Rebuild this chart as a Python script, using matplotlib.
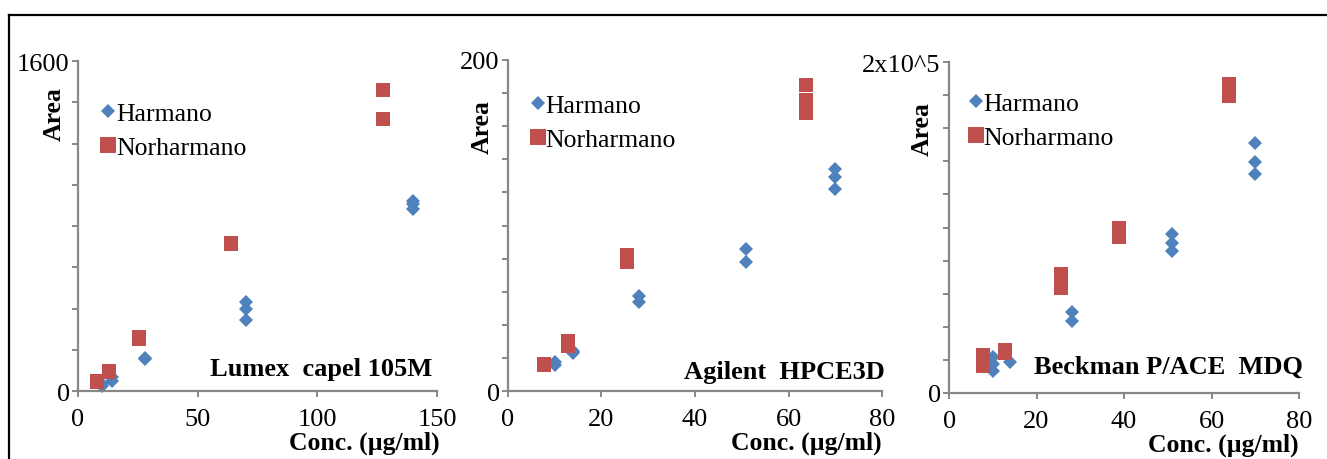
import matplotlib.pyplot as plt
from matplotlib.lines import Line2D

plt.rcParams["font.family"] = ["Liberation Serif", "DejaVu Serif"]

blue = "#4F81BD"
red = "#C0504D"
grey = "#878787"

# Lumex capel 105M
harm_conc_1 = [10, 10, 14, 14, 28, 28, 70, 70, 70, 140, 140, 140]
harm_area_1 = [26, 35, 50, 68, 155, 162, 430, 398, 344, 920, 905, 883]
norh_conc_1 = [7.8, 7.8, 12.8, 12.8, 25.5, 25.5, 63.8, 63.8, 127.5, 127.5]
norh_area_1 = [42, 48, 91, 98, 252, 262, 713, 718, 1461, 1321]

# Agilent HPCE3D
harm_conc_2 = [10, 10, 14, 14, 28, 28, 51, 51, 70, 70, 70]
harm_area_2 = [16, 17.5, 23, 24, 57.6, 53.6, 85.8, 78.1, 134, 129.5, 122]
norh_conc_2 = [7.8, 7.8, 12.8, 12.8, 25.5, 25.5, 25.5, 63.7, 63.7, 63.7]
norh_area_2 = [16, 16.3, 27, 30, 78, 80, 82, 168, 176, 185]

# Beckman P/ACE MDQ
harm_conc_3 = [10, 10, 10, 14, 28, 28, 51, 51, 51, 70, 70, 70]
harm_area_3 = [21600, 17500, 13500, 18500, 48800, 43700, 96000, 90600, 86000,
               151000, 139400, 132300]
norh_conc_3 = [7.8, 7.8, 7.8, 12.8, 12.8, 25.5, 25.5, 25.5, 38.8, 38.8, 64, 64]
norh_area_3 = [16500, 19500, 22700, 24200, 25700, 63400, 67500, 71900,
               94000, 99700, 179200, 186700]

panels = [
    dict(hx=harm_conc_1, hy=harm_area_1, nx=norh_conc_1, ny=norh_area_1,
         xmax=150, xstep=50, ymax=1600, ystep=200, ytop="1600",
         name="Lumex  capel 105M", name_xy=(0.986, 0.067),
         rect=[0.0588, 0.1478, 0.2705, 0.7174],
         ylab_xy=(-0.035, 0.842), xlab_x=1.008, leg_xy=(0.066, 0.875)),
    dict(hx=harm_conc_2, hy=harm_area_2, nx=norh_conc_2, ny=norh_area_2,
         xmax=80, xstep=20, ymax=200, ystep=20, ytop="200",
         name="Agilent  HPCE3D", name_xy=(1.008, 0.06),
         rect=[0.3828, 0.1478, 0.2819, 0.7196],
         ylab_xy=(-0.037, 0.80), xlab_x=1.0, leg_xy=(0.063, 0.896)),
    dict(hx=harm_conc_3, hy=harm_area_3, nx=norh_conc_3, ny=norh_area_3,
         xmax=80, xstep=20, ymax=200000, ystep=20000, ytop="2x10^5",
         name="Beckman P/ACE  MDQ", name_xy=(1.011, 0.082),
         rect=[0.7152, 0.1435, 0.2637, 0.7195],
         ylab_xy=(-0.043, 0.80), xlab_x=1.0, leg_xy=(0.058, 0.908)),
]

fig = plt.figure(figsize=(13.27, 4.6), dpi=100)

for p in panels:
    ax = fig.add_axes(p["rect"])
    ax.plot(p["hx"], p["hy"], "D", color=blue, markersize=6.8,
            markeredgewidth=0, label="Harmano", clip_on=False)
    ax.plot(p["nx"], p["ny"], "s", color=red, markersize=10,
            markeredgewidth=0, label="Norharmano", clip_on=False)

    ax.set_xlim(0, p["xmax"])
    ax.set_ylim(0, p["ymax"])
    ax.set_xticks(range(0, p["xmax"] + 1, p["xstep"]))
    yt = list(range(0, p["ymax"] + 1, p["ystep"]))
    ax.set_yticks(yt)
    ax.set_yticklabels(["0"] + [""] * (len(yt) - 2) + [p["ytop"]])

    for s in ["top", "right"]:
        ax.spines[s].set_visible(False)
    for s in ["left", "bottom"]:
        ax.spines[s].set_color(grey)
        ax.spines[s].set_linewidth(1.6)
    ax.tick_params(axis="both", colors=grey, labelcolor="black",
                   labelsize=19, width=1.4, length=4)
    ax.tick_params(axis="x", pad=8)
    ax.tick_params(axis="y", pad=2)

    ax.set_ylabel("Area", fontsize=18.5, fontweight="bold")
    ax.yaxis.set_label_coords(*p["ylab_xy"])
    ax.set_xlabel("Conc. (µg/ml)", fontsize=18.5, fontweight="bold",
                  ha="right")
    ax.xaxis.set_label_coords(p["xlab_x"], -0.12)

    ax.text(*p["name_xy"], p["name"], transform=ax.transAxes, ha="right",
            va="center", fontsize=19, fontweight="bold")

    ax.legend(loc="upper left", bbox_to_anchor=p["leg_xy"], frameon=False,
              fontsize=18.5, handlelength=0.5, handletextpad=0.05,
              labelspacing=0.4, borderpad=0, borderaxespad=0,
              markerscale=1.1)

# outer frame
fig.add_artist(Line2D([9 / 1327, 1], [1 - 16 / 460] * 2, color="black",
                      linewidth=1.6))
fig.add_artist(Line2D([9 / 1327] * 2, [0, 1 - 16 / 460], color="black",
                      linewidth=1.6))

fig.savefig("out.png", dpi=100)
